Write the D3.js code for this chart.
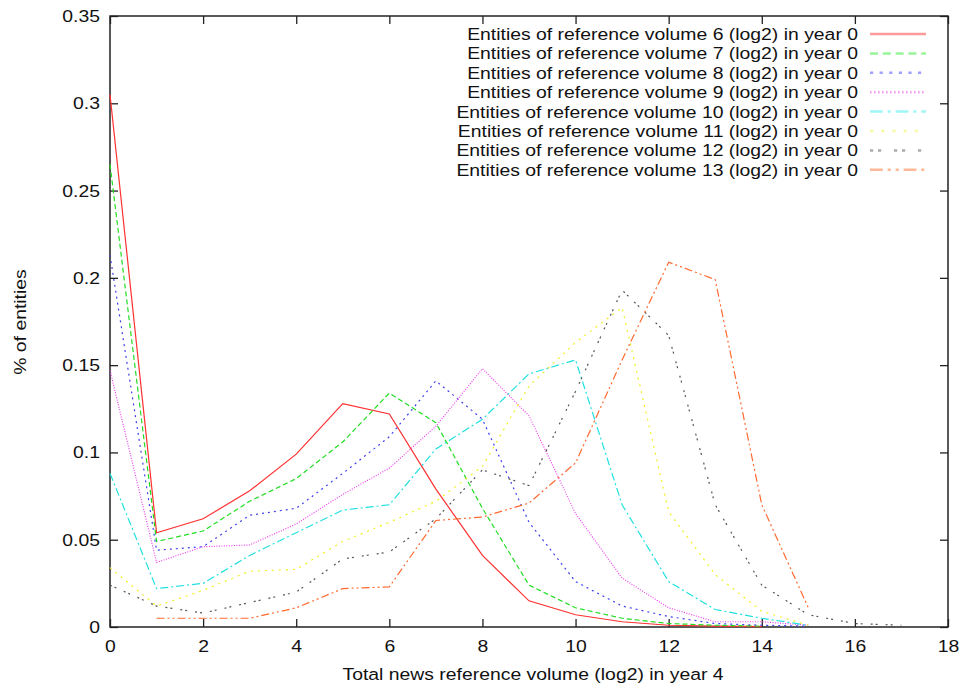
<!DOCTYPE html>
<html>
<head>
<meta charset="utf-8">
<script src="https://cdn.jsdelivr.net/npm/d3@7"></script>
<style>
  body { margin: 0; background: #fff; }
  text { font-family: "Liberation Sans", Arial, sans-serif; font-size: 17px; fill: #111; }
</style>
</head>
<body>
<script>
// x positions (log2 of total volume in year 4)
var xs = [0, 1, 2, 3, 4, 5, 6, 7, 8, 9, 10, 11, 12, 13, 14, 15, 16, 17];

// one array per reference volume group (share of entities)
var vol6  = [0.305, 0.054, 0.062, 0.078, 0.099, 0.128, 0.122, 0.079, 0.041, 0.015, 0.007, 0.003, 0.001, 0.0005, 0.0002];
var vol7  = [0.265, 0.049, 0.055, 0.072, 0.085, 0.106, 0.134, 0.117, 0.068, 0.024, 0.011, 0.005, 0.002, 0.001, 0.0005];
var vol8  = [0.213, 0.044, 0.046, 0.064, 0.068, 0.088, 0.109, 0.141, 0.119, 0.060, 0.026, 0.012, 0.006, 0.002, 0.001, 0.0005];
var vol9  = [0.147, 0.037, 0.046, 0.047, 0.059, 0.076, 0.091, 0.115, 0.148, 0.121, 0.065, 0.028, 0.011, 0.003, 0.003, 0.001];
var vol10 = [0.088, 0.022, 0.025, 0.041, 0.054, 0.067, 0.070, 0.102, 0.119, 0.145, 0.153, 0.070, 0.026, 0.010, 0.005, 0.001];
var vol11 = [0.034, 0.012, 0.021, 0.032, 0.033, 0.049, 0.060, 0.072, 0.092, 0.138, 0.163, 0.183, 0.066, 0.030, 0.009, 0.001];
var vol12 = [0.024, 0.012, 0.008, 0.014, 0.020, 0.039, 0.043, 0.062, 0.090, 0.081, 0.135, 0.193, 0.167, 0.070, 0.024, 0.007, 0.002, 0.001];
var vol13 = [null, 0.005, 0.005, 0.005, 0.011, 0.022, 0.023, 0.061, 0.063, 0.071, 0.094, 0.153, 0.209, 0.199, 0.070, 0.011];

var seriesNames = [
  "Entities of reference volume 6 (log2) in year 0",
  "Entities of reference volume 7 (log2) in year 0",
  "Entities of reference volume 8 (log2) in year 0",
  "Entities of reference volume 9 (log2) in year 0",
  "Entities of reference volume 10 (log2) in year 0",
  "Entities of reference volume 11 (log2) in year 0",
  "Entities of reference volume 12 (log2) in year 0",
  "Entities of reference volume 13 (log2) in year 0"
];
var seriesValues = [vol6, vol7, vol8, vol9, vol10, vol11, vol12, vol13];

var xTicks = [0, 2, 4, 6, 8, 10, 12, 14, 16, 18];
var yTicks = [0, 0.05, 0.1, 0.15, 0.2, 0.25, 0.3, 0.35];
var yTickLabels = ["0", "0.05", "0.1", "0.15", "0.2", "0.25", "0.3", "0.35"];

// styles (gnuplot-ish)
var colors = ["#ff3030", "#22dd22", "#4040ee", "#ee40ee", "#20e0e0", "#f0f020", "#555555", "#ff6a30"];
var legendColors = ["#ff9a9a", "#99f599", "#a0a0ff", "#f5a0f5", "#a0f5f5", "#f8f8a0", "#aaaaaa", "#ffb898"];
var dashes = ["none", "5,3", "2,4", "1,1.5", "8,3,2,3", "2,5", "2,3,2,8", "8,3,2,3,2,3"];

var svgWidth = 965;
var svgHeight = 685;
var margin = {top: 16, right: 17, bottom: 58, left: 110};
var width = svgWidth - margin.left - margin.right;
var height = svgHeight - margin.top - margin.bottom;
var sx = 1.14; // horizontal stretch of the original font

var svg = d3.select("body")
  .append("svg")
  .attr("width", svgWidth)
  .attr("height", svgHeight);

var chart = svg.append("g")
  .attr("transform", "translate(" + margin.left + "," + margin.top + ")");

var x = d3.scaleLinear().domain([0, 18]).range([0, width]);
var y = d3.scaleLinear().domain([0, 0.35]).range([height, 0]);

// axes with inward ticks, mirrored on top / right
var bottomAxis = d3.axisBottom(x).tickValues(xTicks).tickSizeInner(-8).tickSizeOuter(0).tickPadding(18);
var leftAxis = d3.axisLeft(y).tickValues(yTicks).tickSizeInner(-8).tickSizeOuter(0).tickPadding(18)
  .tickFormat(function(d, i) { return yTickLabels[i]; });

var gx = chart.append("g")
  .attr("transform", "translate(0," + height + ")")
  .call(bottomAxis);
var gy = chart.append("g").call(leftAxis);

chart.append("g").call(d3.axisTop(x).tickValues(xTicks).tickSizeInner(-8).tickSizeOuter(0).tickFormat(""));
chart.append("g").attr("transform", "translate(" + width + ",0)")
  .call(d3.axisRight(y).tickValues(yTicks).tickSizeInner(-8).tickSizeOuter(0).tickFormat(""));

chart.selectAll(".domain").remove();
chart.selectAll(".tick line").attr("stroke", "#222").attr("stroke-width", 1.3);
chart.selectAll(".tick text").attr("font-size", null).attr("fill", "#111");

gx.selectAll(".tick text").attr("dy", "0.35em").attr("y", 19)
  .attr("transform", "scale(" + sx + ",1)");
gy.selectAll(".tick text").attr("x", -10 / sx)
  .attr("transform", "scale(" + sx + ",1)");
gx.attr("font-family", null);
gy.attr("font-family", null);
gx.selectAll(".tick text").style("font-size", "17px");
gy.selectAll(".tick text").style("font-size", "17px");

// border
chart.append("rect")
  .attr("width", width)
  .attr("height", height)
  .attr("fill", "none")
  .attr("stroke", "#222")
  .attr("stroke-width", 1.5);

// lines
var line = d3.line()
  .defined(function(d) { return d[1] != null; })
  .x(function(d) { return x(d[0]); })
  .y(function(d) { return y(d[1]); });

seriesValues.forEach(function(vals, i) {
  var pts = vals.map(function(v, j) { return [xs[j], v]; });
  chart.append("path")
    .datum(pts)
    .attr("d", line)
    .attr("fill", "none")
    .attr("stroke", colors[i])
    .attr("stroke-width", 1.2)
    .attr("stroke-dasharray", dashes[i]);
});

// legend
var legend = chart.append("g")
  .attr("transform", "translate(" + (858 - margin.left) + "," + (34 - margin.top) + ")");

seriesNames.forEach(function(name, i) {
  var row = legend.append("g").attr("transform", "translate(0," + (i * 19.4) + ")");
  row.append("text")
    .attr("text-anchor", "end")
    .attr("dy", "0.35em")
    .attr("transform", "scale(" + sx + ",1)")
    .text(name);
  row.append("line")
    .attr("x1", 12).attr("x2", 68)
    .attr("y1", 0).attr("y2", 0)
    .attr("stroke", legendColors[i])
    .attr("stroke-width", 2.5)
    .attr("stroke-dasharray", dashes[i] === "none" ? null : dashes[i].split(",").map(function(v) { return +v * 1.6; }).join(","));
});

// axis titles
svg.append("g")
  .attr("transform", "translate(533,674)")
  .append("text")
  .attr("text-anchor", "middle")
  .attr("dy", "0.35em")
  .attr("transform", "scale(" + sx + ",1)")
  .text("Total news reference volume (log2) in year 4");

svg.append("g")
  .attr("transform", "translate(20,322) rotate(-90)")
  .append("text")
  .attr("text-anchor", "middle")
  .attr("dy", "0.35em")
  .attr("transform", "scale(" + sx + ",1)")
  .text("% of entities");
</script>
</body>
</html>
